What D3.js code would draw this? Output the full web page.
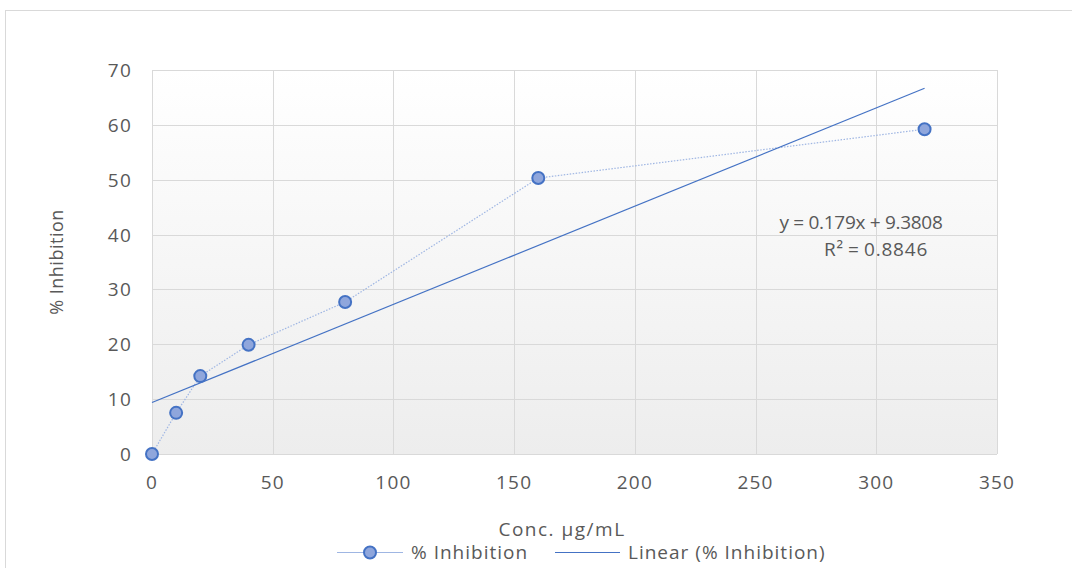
<!DOCTYPE html>
<html>
<head>
<meta charset="utf-8">
<script src="https://cdn.jsdelivr.net/npm/d3@7"></script>
<style>
  body { margin: 0; background: #fff; }
  svg { display: block; font-family: "Open Sans", "DejaVu Sans", sans-serif; }
</style>
</head>
<body>
<div id="chart"></div>
<script>
var width = 1072;
var height = 568;

// data
var conc = [0, 10, 20, 40, 80, 160, 320];
var inhibition = [0, 7.5, 14.2, 19.9, 27.7, 50.3, 59.2];
var xTicks = [0, 50, 100, 150, 200, 250, 300, 350];
var yTicks = [0, 10, 20, 30, 40, 50, 60, 70];
var slope = 0.179;
var intercept = 9.3808;
var rSquared = 0.8846;

var margin = { left: 152, right: 75, top: 70, bottom: 114 };
var textColor = "#595959";

var svg = d3.select("#chart")
    .append("svg")
    .attr("width", width)
    .attr("height", height);

// chart area border
svg.append("rect")
    .attr("x", 5.5)
    .attr("y", 10.5)
    .attr("width", width + 10)
    .attr("height", height + 10)
    .attr("fill", "#fff")
    .attr("stroke", "#d9d9d9");

var x = d3.scaleLinear()
    .domain([0, 350])
    .range([margin.left, width - margin.right]);

var y = d3.scaleLinear()
    .domain([0, 70])
    .range([height - margin.bottom, margin.top]);

// plot background gradient
var defs = svg.append("defs");
var grad = defs.append("linearGradient")
    .attr("id", "plotbg")
    .attr("x1", 0).attr("y1", 0)
    .attr("x2", 0).attr("y2", 1);
grad.append("stop").attr("offset", "0%").attr("stop-color", "#ffffff");
grad.append("stop").attr("offset", "100%").attr("stop-color", "#ededed");

svg.append("rect")
    .attr("x", x(0))
    .attr("y", y(70))
    .attr("width", x(350) - x(0))
    .attr("height", y(0) - y(70))
    .attr("fill", "url(#plotbg)");

// gridlines
svg.append("g")
    .selectAll("line")
    .data(yTicks)
    .enter()
    .append("line")
    .attr("x1", x(0))
    .attr("x2", x(350))
    .attr("y1", d => Math.round(y(d)) + 0.5)
    .attr("y2", d => Math.round(y(d)) + 0.5)
    .attr("stroke", "#d9d9d9");

svg.append("g")
    .selectAll("line")
    .data(xTicks)
    .enter()
    .append("line")
    .attr("x1", d => Math.round(x(d)) + 0.5)
    .attr("x2", d => Math.round(x(d)) + 0.5)
    .attr("y1", y(0))
    .attr("y2", y(70))
    .attr("stroke", "#d9d9d9");

// tick labels
svg.append("g")
    .selectAll("text")
    .data(xTicks)
    .enter()
    .append("text")
    .attr("x", d => x(d))
    .attr("y", y(0) + 35)
    .attr("text-anchor", "middle")
    .attr("font-size", 19)
    .attr("letter-spacing", 1.2)
    .attr("fill", textColor)
    .text(d => d);

svg.append("g")
    .selectAll("text")
    .data(yTicks)
    .enter()
    .append("text")
    .attr("x", x(0) - 20)
    .attr("y", d => y(d) + 7)
    .attr("text-anchor", "end")
    .attr("font-size", 19)
    .attr("letter-spacing", 1.2)
    .attr("fill", textColor)
    .text(d => d);

// axis titles
svg.append("text")
    .attr("x", 562)
    .attr("y", 536)
    .attr("text-anchor", "middle")
    .attr("font-size", 19)
    .attr("letter-spacing", 1.5)
    .attr("fill", textColor)
    .text("Conc. µg/mL");

svg.append("text")
    .attr("transform", "translate(63," + 262 + ") rotate(-90)")
    .attr("text-anchor", "middle")
    .attr("font-size", 18)
    .attr("letter-spacing", 0.5)
    .attr("fill", textColor)
    .text("% Inhibition");

// series line (dotted)
var pts = conc.map((c, i) => [c, inhibition[i]]);
var line = d3.line()
    .x(d => x(d[0]))
    .y(d => y(d[1]));

svg.append("path")
    .datum(pts)
    .attr("d", line)
    .attr("fill", "none")
    .attr("stroke", "#9fb6e3")
    .attr("stroke-width", 1.2)
    .attr("stroke-dasharray", "1.5,1.5");

// trendline
var trendX = [0, d3.max(conc)];
svg.append("path")
    .datum(trendX.map(v => [v, slope * v + intercept]))
    .attr("d", line)
    .attr("fill", "none")
    .attr("stroke", "#4472c4")
    .attr("stroke-width", 1.2);

// markers
svg.append("g")
    .selectAll("circle")
    .data(pts)
    .enter()
    .append("circle")
    .attr("cx", d => x(d[0]))
    .attr("cy", d => y(d[1]))
    .attr("r", 6)
    .attr("fill", "#8fa6dc")
    .attr("stroke", "#4472c4")
    .attr("stroke-width", 2);

// equation
svg.append("text")
    .attr("x", 861)
    .attr("y", 229)
    .attr("text-anchor", "middle")
    .attr("font-size", 19)
    .attr("letter-spacing", -0.3)
    .attr("fill", textColor)
    .text("y = " + slope + "x + " + intercept);

svg.append("text")
    .attr("x", 876)
    .attr("y", 256)
    .attr("text-anchor", "middle")
    .attr("font-size", 19)
    .attr("letter-spacing", 0.8)
    .attr("word-spacing", -1.5)
    .attr("fill", textColor)
    .text("R² = " + rSquared);

// legend
var lg = svg.append("g");
lg.append("line")
    .attr("x1", 337).attr("x2", 403)
    .attr("y1", 552.5).attr("y2", 552.5)
    .attr("stroke", "#9fb6e3")
    .attr("stroke-width", 1.2);
lg.append("circle")
    .attr("cx", 370).attr("cy", 552.5)
    .attr("r", 6)
    .attr("fill", "#8fa6dc")
    .attr("stroke", "#4472c4")
    .attr("stroke-width", 2);
lg.append("text")
    .attr("x", 411).attr("y", 559)
    .attr("font-size", 19)
    .attr("letter-spacing", 1)
    .attr("fill", textColor)
    .text("% Inhibition");
lg.append("line")
    .attr("x1", 555).attr("x2", 620)
    .attr("y1", 552.5).attr("y2", 552.5)
    .attr("stroke", "#4472c4")
    .attr("stroke-width", 1.2);
lg.append("text")
    .attr("x", 628).attr("y", 559)
    .attr("font-size", 19)
    .attr("letter-spacing", 1)
    .attr("fill", textColor)
    .text("Linear (% Inhibition)");
</script>
</body>
</html>
